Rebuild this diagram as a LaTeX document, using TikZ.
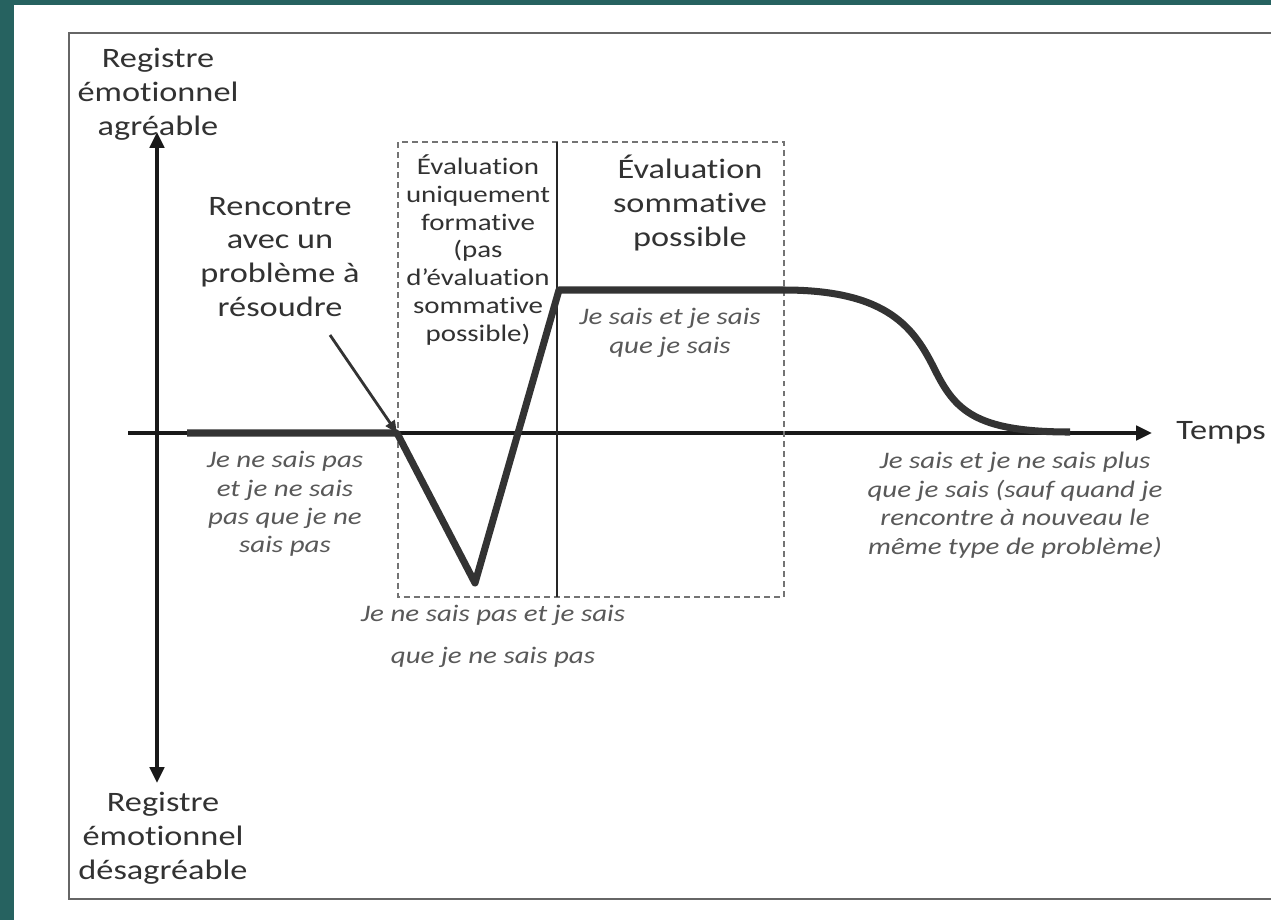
\documentclass[tikz,border=0pt]{standalone}
\usepackage{fontspec}
\setmainfont{Carlito}[FakeStretch=1.22,Ligatures=CommonOff]
\usetikzlibrary{arrows.meta}
\definecolor{tealbg}{RGB}{38,98,96}
\definecolor{ink}{RGB}{50,50,50}
\tikzset{bigtext/.style = {align=center,inner sep=0pt,text=ink,font=\fontsize{16}{19.3}\selectfont}}
\tikzset{smalltext/.style = {align=center,inner sep=0pt,text=ink,font=\fontsize{13.5}{15.9}\selectfont}}
\tikzset{note/.style = {align=center,inner sep=0pt,text=black!65,font=\fontsize{13.5}{16.2}\selectfont\itshape}}
\tikzset{axis/.style = {line width=2.3pt,draw=black!90,> = {Triangle[length=9pt,width=8pt]}}}
\tikzset{pointer/.style = {->,> = {Triangle[length=7pt,width=6pt]},line width=1.6pt,draw=black!80}}
\tikzset{curve/.style = {line width=4pt,draw=black!80,line join=round}}
\tikzset{dashbox/.style = {draw=black!55,line width=0.8pt,dash pattern=on 3.4pt off 2.3pt}}

\begin{document}
\begin{tikzpicture}[x=0.02cm,y=-0.02cm]

\useasboundingbox (0,0) rectangle (1271,920);
\fill[tealbg] (0,0) rectangle (1271,920);
\fill[white] (14,5) rectangle (1271,920);
\draw[black!60,line width=0.85pt] (69,33) rectangle (1300,899);

% axes
\coordinate (ytop) at (157,132);
\coordinate (ybot) at (157,783);
\coordinate (xleft) at (128,433);
\coordinate (xright) at (1152,433);
\draw[axis,<->] (ybot) -- (ytop);
\draw[axis,->] (xleft) -- (xright);

\node[bigtext] (agreable) at (158,94) {Registre\\émotionnel\\agréable};
\node[bigtext] (desagreable) at (163,838) {Registre\\émotionnel\\désagréable};
\node[bigtext,anchor=west] (temps) at (1176,433) {Temps};

% evaluation boxes
\draw[dashbox] (398,142) rectangle (784,597);
\draw[black!85,line width=1.1pt] (557,142) -- (557,597);
\node[smalltext] (formative) at (478,250) {Évaluation\\uniquement\\formative\\(pas\\d’évaluation\\sommative\\possible)};
\node[bigtext] (sommative) at (690,203) {Évaluation\\sommative\\possible};

% learning curve
\coordinate (c0) at (187,433);
\coordinate (c1) at (397,433);
\coordinate (c2) at (475,583);
\coordinate (c3) at (559,290);
\coordinate (c4) at (784,290);
\coordinate (c5) at (935,370);
\coordinate (c6) at (1070,432);
\draw[curve] (c0) -- (c1) -- (c2) -- (c3) -- (c4) .. controls (890,290) and (915,330) .. (c5) .. controls (955,410) and (975,432) .. (c6);

\node[bigtext] (rencontre) at (280,257) {Rencontre\\avec un\\problème à\\résoudre};
\coordinate (p0) at (330,335);
\draw[pointer] (p0) -- (c1);

\node[note] (stage1) at (285,504) {Je ne sais pas\\et je ne sais\\pas que je ne\\sais pas};
\node[note,font=\fontsize{13.5}{23.8}\selectfont\itshape] (stage2) at (493,636) {Je ne sais pas et je sais\\que je ne sais pas};
\node[note] (stage3) at (670,333) {Je sais et je sais\\que je sais};
\node[note] (stage4) at (1015,505) {Je sais et je ne sais plus\\que je sais (sauf quand je\\rencontre à nouveau le\\même type de problème)};

\end{tikzpicture}
\end{document}
